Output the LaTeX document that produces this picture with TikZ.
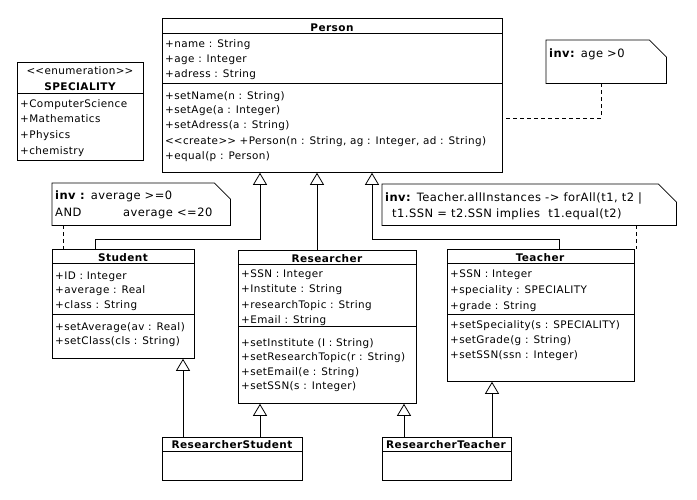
\documentclass[tikz,border=0pt]{standalone}
\usepackage{fontspec}
\setmainfont{DejaVu Sans}[LetterSpace=4]
\usetikzlibrary{arrows.meta}
\tikzset{
  cls/.style={draw, line width=0.8pt, fill=white, anchor=north west, inner sep=0pt},
  txt/.style={anchor=base west, inner sep=0pt, font=\fontsize{10.4}{12}\selectfont},
  ntxt/.style={anchor=base west, inner sep=0pt, font=\fontsize{11.5}{13}\selectfont},
  ttl/.style={anchor=base, inner sep=0pt, font=\fontsize{10.5}{12}\selectfont\bfseries},
  notebox/.style={anchor=north west, inner sep=0pt},
  notel/.style={draw, line width=0.8pt},
  dsh/.style={line width=0.8pt, dash pattern=on 4pt off 3pt},
  gen/.style={line width=0.8pt, -{Triangle[open, length=12pt, width=14pt, line width=0.8pt]}},
  sep/.style={line width=0.8pt}
}
\begin{document}
\begin{tikzpicture}[x=1pt,y=-1pt]
\useasboundingbox (0,0) rectangle (697,499);
% ---------- Person ----------
\node[cls, minimum width=340pt, minimum height=154pt] (person) at (162,18) {};
\draw[sep] (person.west |- 0,33) -- (person.east |- 0,33);
\draw[sep] (person.west |- 0,83) -- (person.east |- 0,83);
\node[ttl] (persont) at (332,31) {Person};
\node[txt] (pa1) at (165,47) {+name : String};
\node[txt] (pa2) at (165,62) {+age : Integer};
\node[txt] (pa3) at (165,77) {+adress : String};
\node[txt] (pm1) at (165,99) {+setName(n : String)};
\node[txt] (pm2) at (165,113) {+setAge(a : Integer)};
\node[txt] (pm3) at (165,128) {+setAdress(a : String)};
\node[txt] (pm4) at (165,144) {<\kern0pt<create>\kern0pt> +Person(n : String, ag : Integer, ad : String)};
\node[txt] (pm5) at (165,159) {+equal(p : Person)};
% ---------- SPECIALITY ----------
\node[cls, minimum width=126pt, minimum height=98pt] (spec) at (17,62) {};
\draw[sep] (spec.west |- 0,93) -- (spec.east |- 0,93);
\node[txt, anchor=base] (spect1) at (80,74) {<\kern0pt<enumeration>\kern0pt>};
\node[ttl] (spect2) at (80,90) {SPECIALITY};
\node[txt] (sv1) at (20,107) {+ComputerScience};
\node[txt] (sv2) at (20,122) {+Mathematics};
\node[txt] (sv3) at (20,138) {+Physics};
\node[txt] (sv4) at (20,154) {+chemistry};
% ---------- Student ----------
\node[cls, minimum width=142pt, minimum height=109pt] (student) at (52,249) {};
\draw[sep] (student.west |- 0,263) -- (student.east |- 0,263);
\draw[sep] (student.west |- 0,314) -- (student.east |- 0,314);
\node[ttl] (studentt) at (123,261) {Student};
\node[txt] (sa1) at (55,279) {+ID : Integer};
\node[txt] (sa2) at (55,293) {+average : Real};
\node[txt] (sa3) at (55,308) {+class : String};
\node[txt] (sm1) at (55,330) {+setAverage(av : Real)};
\node[txt] (sm2) at (55,344) {+setClass(cls : String)};
% ---------- Researcher ----------
\node[cls, minimum width=178pt, minimum height=153pt] (res) at (238,250) {};
\draw[sep] (res.west |- 0,264) -- (res.east |- 0,264);
\draw[sep] (res.west |- 0,326) -- (res.east |- 0,326);
\node[ttl] (rest) at (327,262) {Researcher};
\node[txt] (ra1) at (241,277) {+SSN : Integer};
\node[txt] (ra2) at (241,292) {+Institute : String};
\node[txt] (ra3) at (241,308) {+researchTopic : String};
\node[txt] (ra4) at (241,323) {+Email : String};
\node[txt] (rm1) at (241,346) {+setInstitute (I : String)};
\node[txt] (rm2) at (241,360) {+setResearchTopic(r : String)};
\node[txt] (rm3) at (241,375) {+setEmail(e : String)};
\node[txt] (rm4) at (241,389) {+setSSN(s : Integer)};
% ---------- Teacher ----------
\node[cls, minimum width=187pt, minimum height=132pt] (teach) at (447,249) {};
\draw[sep] (teach.west |- 0,263) -- (teach.east |- 0,263);
\draw[sep] (teach.west |- 0,314) -- (teach.east |- 0,314);
\node[ttl] (teacht) at (540,261) {Teacher};
\node[txt] (ta1) at (450,277) {+SSN : Integer};
\node[txt] (ta2) at (450,293) {+speciality : SPECIALITY};
\node[txt] (ta3) at (450,309) {+grade : String};
\node[txt] (tm1) at (450,328) {+setSpeciality(s : SPECIALITY)};
\node[txt] (tm2) at (450,343) {+setGrade(g : String)};
\node[txt] (tm3) at (450,358) {+setSSN(ssn : Integer)};
% ---------- ResearcherStudent / ResearcherTeacher ----------
\node[cls, minimum width=140pt, minimum height=43pt] (rs) at (162,437) {};
\draw[sep] (rs.west |- 0,451) -- (rs.east |- 0,451);
\node[ttl] (rst) at (232,448) {ResearcherStudent};
\node[cls, minimum width=129pt, minimum height=43pt] (rt) at (382,437) {};
\draw[sep] (rt.west |- 0,451) -- (rt.east |- 0,451);
\node[ttl] (rtt) at (446,448) {ResearcherTeacher};
% ---------- Notes ----------
\node[notebox, minimum width=120pt, minimum height=43pt] (nage) at (546,40) {};
\draw[notel] (nage.north west) -- ([xshift=-17pt]nage.north east) -- ([yshift=-17pt]nage.north east) -- (nage.south east) -- (nage.south west) -- cycle;
\node[ntxt] (nagetxt) at (549,57) {\textbf{inv:} age >0};

\node[notebox, minimum width=178pt, minimum height=42pt] (nstu) at (52,183) {};
\draw[notel] (nstu.north west) -- ([xshift=-16pt]nstu.north east) -- ([yshift=-16pt]nstu.north east) -- (nstu.south east) -- (nstu.south west) -- cycle;
\node[ntxt] (nstu1) at (55,199) {\textbf{inv :} average >=0};
\node[ntxt] (nstu2) at (55,216) {AND};
\node[ntxt] (nstu3) at (123,216) {average <=20};

\node[notebox, minimum width=294pt, minimum height=41pt] (nteach) at (382,184) {};
\draw[notel] (nteach.north west) -- ([xshift=-18pt]nteach.north east) -- ([yshift=-18pt]nteach.north east) -- (nteach.south east) -- (nteach.south west) -- cycle;
\node[ntxt] (nt1) at (385,201) {\textbf{inv:} Teacher.allInstances -> forAll(t1, t2 |};
\node[ntxt] (nt2) at (392,217) {t1.SSN = t2.SSN implies \ t1.equal(t2)};
% ---------- Note connectors ----------
\coordinate (da) at (601,118);
\draw[dsh] (nage.south -| da) -- (da) -- (person.east |- da);
\coordinate (ds) at (63,237);
\draw[dsh] (nstu.south -| ds) -- (student.north -| ds);
\coordinate (dt) at (636,237);
\draw[dsh] (nteach.south -| dt) -- (teach.north -| dt);
% ---------- Generalizations ----------
\coordinate (sg1) at (95,239);
\coordinate (sg2) at (260,239);
\draw[gen] (student.north -| sg1) -- (sg1) -- (sg2) -- (person.south -| sg2);
\coordinate (rg) at (317,239);
\draw[gen] (res.north -| rg) -- (person.south -| rg);
\coordinate (tg1) at (559,239);
\coordinate (tg2) at (372,239);
\draw[gen] (teach.north -| tg1) -- (tg1) -- (tg2) -- (person.south -| tg2);
\coordinate (g1) at (183,400);
\draw[gen] (rs.north -| g1) -- (student.south -| g1);
\coordinate (g2) at (260,420);
\draw[gen] (rs.north -| g2) -- (res.south -| g2);
\coordinate (g3) at (404,420);
\draw[gen] (rt.north -| g3) -- (res.south -| g3);
\coordinate (g4) at (492,400);
\draw[gen] (rt.north -| g4) -- (teach.south -| g4);
\end{tikzpicture}
\end{document}
